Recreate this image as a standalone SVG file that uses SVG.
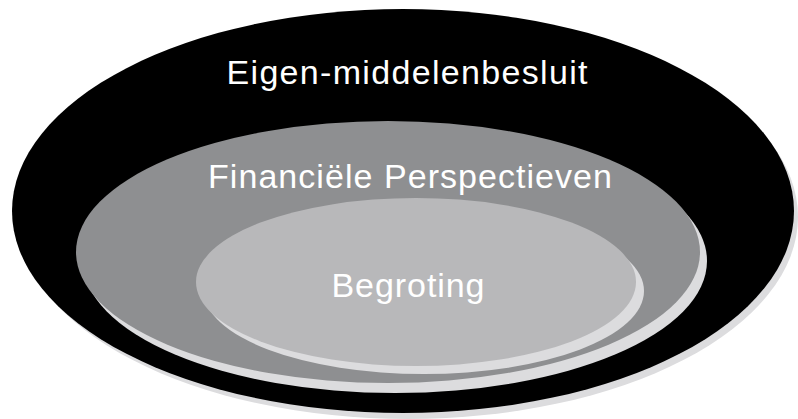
<svg xmlns="http://www.w3.org/2000/svg" width="798" height="419" viewBox="0 0 798 419">
  <style>
    .shadow { fill: #dcdcde; }
    .lbl { font-family: "Liberation Sans", Arial, sans-serif; font-size: 34px; fill: #ffffff; text-anchor: middle; }
  </style>
  <rect width="798" height="419" fill="#ffffff"/>
  <g id="eigen-middelenbesluit">
    <ellipse class="shadow" cx="408" cy="217" rx="390" ry="202"/>
    <ellipse cx="403" cy="211" rx="391" ry="202" fill="#000000"/>
    <text class="lbl" x="407" y="84" textLength="361" lengthAdjust="spacing">Eigen-middelenbesluit</text>
  </g>
  <g id="financiele-perspectieven">
    <ellipse class="shadow" cx="395" cy="261" rx="312" ry="132"/>
    <ellipse cx="388" cy="252" rx="312" ry="131" fill="#8e8f91"/>
    <text class="lbl" x="410" y="188" textLength="404" lengthAdjust="spacing">Financiële Perspectieven</text>
  </g>
  <g id="begroting">
    <ellipse class="shadow" cx="424" cy="291" rx="220" ry="83"/>
    <ellipse cx="416" cy="282" rx="220" ry="84" fill="#b8b8ba"/>
    <text class="lbl" x="408" y="297" textLength="153" lengthAdjust="spacing">Begroting</text>
  </g>
</svg>
